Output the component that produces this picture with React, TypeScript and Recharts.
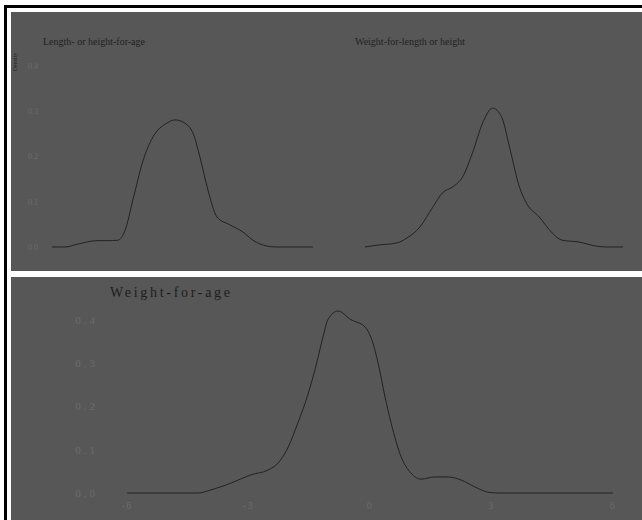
import React from 'react';
import { LineChart, Line, XAxis, YAxis } from 'recharts';

// z-score vs density
const lhaZ = [-6, -5.4, -4.85, -3.93, -3.47, -2.97, -2.64, -2.28, -1.82, -1.36, -0.71, -0.34, 0.21, 0.48, 0.8, 1.17, 1.59, 2.18, 2.78, 3.24, 3.89, 4.34, 6];
const lhaDensity = [0, 0, 0.006, 0.014, 0.014, 0.015, 0.037, 0.104, 0.19, 0.243, 0.274, 0.281, 0.27, 0.252, 0.199, 0.126, 0.066, 0.049, 0.033, 0.015, 0.002, 0, 0];

const wflZ = [-6, -5.44, -4.52, -4.05, -3.45, -2.85, -2.39, -1.92, -1.46, -1.0, -0.53, -0.07, 0.35, 0.72, 1.18, 1.51, 2.11, 2.71, 3.17, 3.96, 4.75, 5.21, 6];
const wflDensity = [0, 0.004, 0.009, 0.02, 0.044, 0.088, 0.12, 0.133, 0.155, 0.208, 0.274, 0.307, 0.288, 0.221, 0.133, 0.097, 0.066, 0.031, 0.015, 0.011, 0.002, 0, 0];

const wfaZ = [-6, -4.25, -3.93, -3.43, -2.94, -2.52, -2.27, -2.02, -1.78, -1.6, -1.36, -1.16, -1.04, -0.79, -0.47, -0.12, 0.02, 0.2, 0.37, 0.52, 0.77, 1.01, 1.26, 1.6, 1.93, 2.25, 2.59, 2.91, 3.16, 6];
const wfaDensity = [0, 0, 0.007, 0.023, 0.042, 0.053, 0.069, 0.106, 0.162, 0.208, 0.284, 0.36, 0.4, 0.42, 0.4, 0.383, 0.36, 0.3, 0.222, 0.162, 0.083, 0.046, 0.032, 0.037, 0.037, 0.03, 0.014, 0.002, 0, 0];

const densityTicks = [0, 0.1, 0.2, 0.3, 0.4];
const zTicks = [-6, -3, 0, 3, 6];

const toRows = (zs: number[], ds: number[]) => zs.map((z, i) => ({ z, d: ds[i] }));

const BG = '#575757';
const INK = '#222';
const FAINT = '#6c6c6c';
const SERIF = '"Liberation Serif", "DejaVu Serif", serif';

const fmt = (v: number) => v.toFixed(1);

export default function App() {
  return (
    <div style={{ position: 'fixed', left: 0, top: 0, width: 642, height: 520, background: '#fff', overflow: 'hidden', fontFamily: SERIF }}>
      <div style={{ position: 'absolute', left: 4, top: 5, width: 700, height: 600, borderTop: '3px solid #000', borderLeft: '3px solid #000', boxSizing: 'border-box' }} />

      {/* top panel */}
      <div style={{ position: 'absolute', left: 11, top: 12, width: 631, height: 259, background: BG }}>
        <div style={{ position: 'absolute', left: 32, top: 24, fontSize: 10, color: INK, whiteSpace: 'nowrap' }}>Length- or height-for-age</div>
        <div style={{ position: 'absolute', left: 344, top: 24, fontSize: 10, color: INK, whiteSpace: 'nowrap' }}>Weight-for-length or height</div>
        <div style={{ position: 'absolute', left: -5, top: 47, fontSize: 6, color: INK, transform: 'rotate(-90deg)', whiteSpace: 'nowrap' }}>Density</div>

        <div style={{ position: 'absolute', left: 0, top: 0 }}>
          <LineChart width={310} height={258} data={toRows(lhaZ, lhaDensity)} margin={{ top: 54, right: 8, bottom: 23, left: 11 }}>
            <XAxis dataKey="z" type="number" domain={[-6, 6]} hide />
            <YAxis type="number" domain={[0, 0.4]} ticks={densityTicks} tickFormatter={fmt} width={30}
              axisLine={false} tickLine={false} tickSize={0} tickMargin={14}
              tick={{ fontSize: 8, fill: FAINT, fontFamily: SERIF }} />
            <Line type="monotone" dataKey="d" stroke={INK} strokeWidth={1} dot={false} isAnimationActive={false} />
          </LineChart>
        </div>

        <div style={{ position: 'absolute', left: 310, top: 0 }}>
          <LineChart width={321} height={258} data={toRows(wflZ, wflDensity)} margin={{ top: 54, right: 19, bottom: 23, left: 44 }}>
            <XAxis dataKey="z" type="number" domain={[-6, 6]} hide />
            <YAxis type="number" domain={[0, 0.4]} hide />
            <Line type="monotone" dataKey="d" stroke={INK} strokeWidth={1} dot={false} isAnimationActive={false} />
          </LineChart>
        </div>
      </div>

      {/* bottom panel */}
      <div style={{ position: 'absolute', left: 11, top: 277, width: 631, height: 243, background: BG }}>
        <div style={{ position: 'absolute', left: 99, top: 8, fontSize: 14, letterSpacing: 2.7, color: '#1c1c1c', whiteSpace: 'nowrap' }}>Weight-for-age</div>
        <div style={{ position: 'absolute', left: 0, top: 0 }}>
          <LineChart width={631} height={243} data={toRows(wfaZ, wfaDensity)} margin={{ top: 21, right: 29, bottom: 7, left: 76 }}>
            <XAxis dataKey="z" type="number" domain={[-6, 6]} ticks={zTicks} height={20}
              axisLine={false} tickLine={false} tickSize={0} tickMargin={9}
              tick={{ fontSize: 10, fill: FAINT, fontFamily: SERIF, letterSpacing: 1.5 }} />
            <YAxis type="number" domain={[0, 0.45]} ticks={densityTicks} tickFormatter={fmt} width={40}
              axisLine={false} tickLine={false} tickSize={0} tickMargin={29}
              tick={{ fontSize: 11, fill: FAINT, fontFamily: SERIF, letterSpacing: 3 }} />
            <Line type="monotone" dataKey="d" stroke={INK} strokeWidth={1} dot={false} isAnimationActive={false} />
          </LineChart>
        </div>
      </div>
    </div>
  );
}
